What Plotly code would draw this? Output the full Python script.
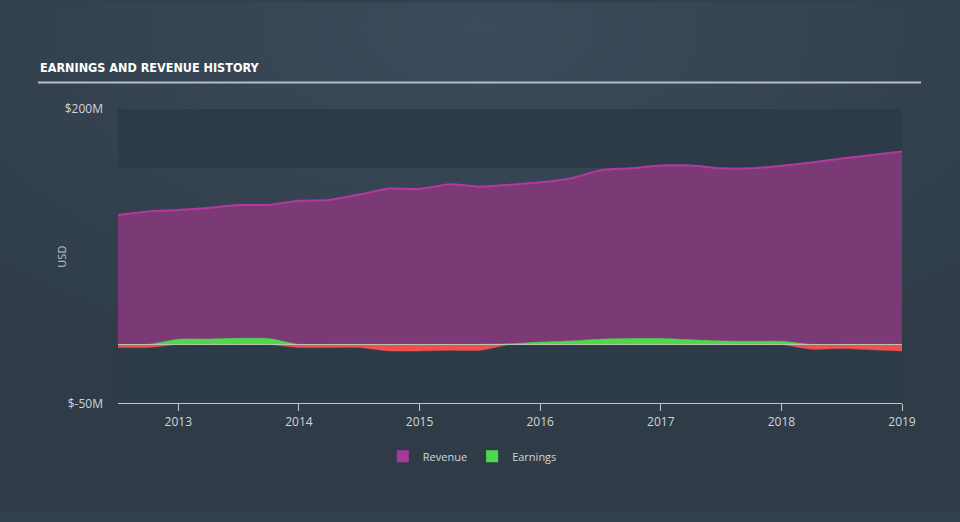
import plotly.graph_objects as go
import base64

# Quarterly dates (decimal years)
dates = [2012.5, 2012.75, 2013.0, 2013.25, 2013.5, 2013.75, 2014.0, 2014.25, 2014.5,
         2014.75, 2015.0, 2015.25, 2015.5, 2015.75, 2016.0, 2016.25, 2016.5, 2016.75,
         2017.0, 2017.25, 2017.5, 2017.75, 2018.0, 2018.25, 2018.5, 2018.75, 2019.0]

revenue = [110, 113, 114.3, 116, 118.5, 118.5, 122, 122.7, 127.3,
           132.4, 132, 136, 134, 135.7, 137.8, 141, 148, 149.6,
           152, 152, 149.6, 149.6, 151.7, 154.6, 158, 161, 164]

earnings = [-2.5, -2.5, 4.5, 4.6, 5.2, 5.0, -2.5, -2.5, -2.5,
            -5.5, -5.5, -5.0, -5.0, 0.5, 2, 3, 4.5, 5,
            5, 4, 3, 2.7, 2.7, -4, -3.5, -4.5, -5.5]

year_ticks = [2013, 2014, 2015, 2016, 2017, 2018, 2019]
y_ticks = [200, -50]
y_tick_labels = ["$200M", "$-50M"]

earn_pos = [max(e, 0) for e in earnings]
earn_neg = [min(e, 0) for e in earnings]

BG = "#33414e"
BAND = "#2d3b48"
FONT = "Open Sans"

T, B = 109, 112
PH = 522 - T - B

svg = ('<svg xmlns="http://www.w3.org/2000/svg" width="960" height="522">'
       '<defs><radialGradient id="g" cx="0.5" cy="0.05" r="0.75">'
       '<stop offset="0" stop-color="#3b4b5b"/><stop offset="1" stop-color="#2f3c48"/>'
       '</radialGradient></defs><rect width="960" height="522" fill="url(#g)"/></svg>')
bg_uri = "data:image/svg+xml;base64," + base64.b64encode(svg.encode()).decode()

fig = go.Figure()

fig.add_trace(go.Scatter(
    x=dates, y=revenue, name="Revenue", mode="lines", showlegend=False,
    line=dict(color="#b4399f", width=2, shape="spline", smoothing=0.6),
    fill="tozeroy", fillcolor="#7b3a76",
))
fig.add_trace(go.Scatter(
    x=dates, y=earn_neg, name="Loss", mode="lines", showlegend=False,
    line=dict(color="#f05050", width=0.5, shape="spline", smoothing=0.6),
    fill="tozeroy", fillcolor="#f05050",
))
fig.add_trace(go.Scatter(
    x=dates, y=earn_pos, name="Earnings", mode="lines", showlegend=False,
    line=dict(color="#4cd94c", width=0.5, shape="spline", smoothing=0.6),
    fill="tozeroy", fillcolor="#4cd94c",
))
# legend-only square swatches
fig.add_trace(go.Bar(x=[None], y=[None], name="Revenue", marker_color="#a8389c",
                     marker_line_width=0))
fig.add_trace(go.Bar(x=[None], y=[None], name="Earnings", marker_color="#4cd94c",
                     marker_line_width=0))

shapes = [
    dict(type="rect", xref="x", yref="y", x0=2012.5, x1=2019.0, y0=150, y1=200,
         fillcolor=BAND, line_width=0, layer="below"),
    dict(type="rect", xref="x", yref="y", x0=2012.5, x1=2019.0, y0=-50, y1=0,
         fillcolor=BAND, line_width=0, layer="below"),
    dict(type="line", xref="x", yref="y", x0=2012.5, x1=2019.0, y0=0, y1=0,
         line=dict(color="rgba(210,210,200,0.8)", width=1), layer="above"),
    dict(type="line", xref="paper", yref="paper", x0=-80/784, x1=(921-118)/784,
         y0=(522-B-82)/PH, y1=(522-B-82)/PH,
         line=dict(color="#b8bdc3", width=2)),
]

fig.update_layout(
    width=960, height=522,
    margin=dict(l=118, r=58, t=T, b=B),
    paper_bgcolor=BG, plot_bgcolor="rgba(0,0,0,0)",
    font=dict(family=FONT, color="#d0d5da", size=12),
    shapes=shapes,
    images=[dict(source=bg_uri, xref="paper", yref="paper", x=-118/784, y=1 + T/PH,
                 sizex=960/784, sizey=522/PH, xanchor="left", yanchor="top",
                 sizing="stretch", layer="below")],
    showlegend=True,
    legend=dict(orientation="h", xref="container", yref="container",
                x=0.492, xanchor="center", y=0.126, yanchor="middle",
                font=dict(size=11, color="#d0d5da"), bgcolor="rgba(0,0,0,0)",
                itemwidth=30, traceorder="normal"),
    annotations=[
        dict(text="<span style=\"font-stretch:condensed\"><b>EARNINGS AND REVENUE HISTORY</b></span>",
             xref="paper", yref="paper",
             x=-80/784, y=(522-B-67)/PH, xanchor="left", yanchor="middle",
             showarrow=False,
             font=dict(family="DejaVu Sans", size=12.5, color="#ffffff")),
        dict(text="USD", xref="paper", yref="paper", x=-56/784, y=(522-B-260)/PH,
             textangle=-90, showarrow=False, xanchor="center", yanchor="middle",
             font=dict(size=11, color="#c0c6cc")),
    ],
)

fig.update_xaxes(
    range=[2012.5, 2019.0], tickvals=year_ticks, ticktext=[str(y) for y in year_ticks],
    showgrid=False, zeroline=False, showline=True, linecolor="#c0c6cc", linewidth=1,
    ticks="outside", ticklen=7, tickcolor="#c0c6cc",
    tickfont=dict(size=12, color="#d0d5da"),
)
fig.update_yaxes(
    range=[-50, 200], tickvals=y_ticks, ticktext=y_tick_labels,
    showgrid=False, zeroline=False, showline=False, ticks="",
    ticklabelstandoff=14,
    tickfont=dict(size=12, color="#d0d5da"),
)

fig.write_html("out.html")
